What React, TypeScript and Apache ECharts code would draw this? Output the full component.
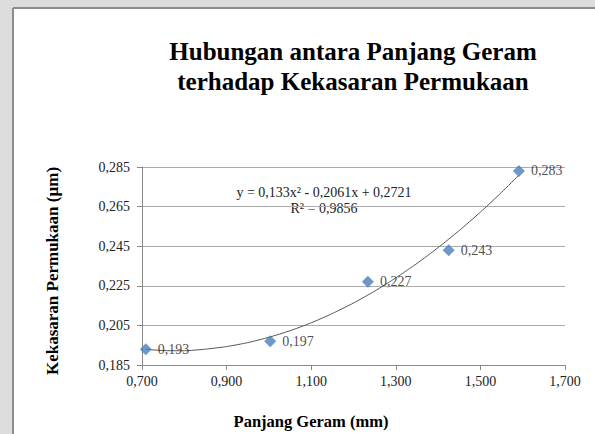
import React, { useEffect, useRef } from "react";
import * as echarts from "echarts";

const titleLines = ["Hubungan antara Panjang Geram", "terhadap Kekasaran Permukaan"];
const xName = "Panjang Geram (mm)";
const yName = "Kekasaran Permukaan (µm)";
const panjangGeram = [0.709, 1.003, 1.234, 1.425, 1.591];
const kekasaran = [0.193, 0.197, 0.227, 0.243, 0.283];
const trendX = [0.709, 0.75, 0.8, 0.85, 0.9, 0.95, 1.0, 1.05, 1.1, 1.15, 1.2, 1.25, 1.3, 1.35, 1.4, 1.45, 1.5, 1.55, 1.591];
const trendY = [0.1929, 0.1923, 0.1922, 0.1930, 0.1943, 0.1963, 0.1990, 0.2023, 0.2063, 0.2110, 0.2163, 0.2223, 0.2290, 0.2363, 0.2443, 0.2529, 0.2622, 0.2722, 0.2809];
const equationText = "y = 0,133x² - 0,2061x + 0,2721";
const r2Text = "R² = 0,9856";

const fmt = (v: number) => v.toFixed(3).replace(".", ",");
const FONT = "Liberation Serif";

export default function App() {
  const ref = useRef<HTMLDivElement>(null);
  useEffect(() => {
    const chart = echarts.init(ref.current!, null, { renderer: "svg" });
    chart.setOption({
      animation: false,
      backgroundColor: "#dcdcdc",
      textStyle: { fontFamily: FONT },
      graphic: [
        { type: "rect", shape: { x: 13, y: 8, width: 600, height: 440 }, style: { fill: "#ffffff" }, z: -10 },
        { type: "line", shape: { x1: 13, y1: 8, x2: 600, y2: 8 }, style: { stroke: "#8c8c8c", lineWidth: 2 }, z: -9 },
        { type: "line", shape: { x1: 13, y1: 8, x2: 13, y2: 440 }, style: { stroke: "#8c8c8c", lineWidth: 2 }, z: -9 },
        {
          type: "text", x: 353, y: 51,
          style: { text: titleLines[0], fontFamily: FONT, fontWeight: "bold", fontSize: 25, fill: "#000", align: "center", verticalAlign: "middle" },
        },
        {
          type: "text", x: 353, y: 81,
          style: { text: titleLines[1], fontFamily: FONT, fontWeight: "bold", fontSize: 25, fill: "#000", align: "center", verticalAlign: "middle" },
        },
        {
          type: "text", x: 324, y: 192,
          style: { text: equationText, fontFamily: FONT, fontSize: 14, fill: "#222", align: "center", verticalAlign: "middle" },
        },
        {
          type: "text", x: 324, y: 208,
          style: { text: r2Text, fontFamily: FONT, fontSize: 14, fill: "#222", align: "center", verticalAlign: "middle" },
        },
        {
          type: "text", x: 311, y: 421,
          style: { text: xName, fontFamily: FONT, fontWeight: "bold", fontSize: 16.5, fill: "#000", align: "center", verticalAlign: "middle" },
        },
        {
          type: "text", x: 52, y: 271, rotation: Math.PI / 2,
          style: { text: yName, fontFamily: FONT, fontWeight: "bold", fontSize: 17, fill: "#000", align: "center", verticalAlign: "middle" },
        },
      ],
      grid: { left: 142, right: 30, top: 167, bottom: 69, containLabel: false },
      xAxis: {
        type: "value", min: 0.7, max: 1.7, interval: 0.2,
        axisLine: { show: true, lineStyle: { color: "#888", width: 1 } },
        axisTick: { show: true, length: 5, lineStyle: { color: "#888" } },
        axisLabel: { formatter: (v: number) => fmt(v), fontFamily: FONT, fontSize: 14, color: "#222", margin: 9 },
        splitLine: { show: false },
      },
      yAxis: {
        type: "value", min: 0.185, max: 0.285, interval: 0.02,
        axisLine: { show: true, lineStyle: { color: "#888", width: 1 } },
        axisTick: { show: true, length: 5, lineStyle: { color: "#888" } },
        axisLabel: { formatter: (v: number) => fmt(v), fontFamily: FONT, fontSize: 14, color: "#222", margin: 12 },
        splitLine: { show: true, lineStyle: { color: "#ababab", width: 1 } },
      },
      series: [
        {
          type: "line",
          data: trendX.map((x, i) => [x, trendY[i]]),
          smooth: 0.2,
          showSymbol: false,
          lineStyle: { color: "#555", width: 1 },
          silent: true,
          z: 2,
        },
        {
          type: "scatter",
          data: panjangGeram.map((x, i) => [x, kekasaran[i]]),
          symbol: "diamond",
          symbolSize: [12, 12],
          itemStyle: { color: "#4a7ebb" },
          label: {
            show: true, position: "right", distance: 6,
            formatter: (p: any) => fmt(p.value[1]),
            fontFamily: FONT, fontSize: 14, color: "#222",
          },
          z: 3,
        },
      ],
    });
    return () => chart.dispose();
  }, []);
  return (
    <div style={{ position: "absolute", left: 0, top: 0 }}>
      <div ref={ref} style={{ width: 595, height: 434 }} />
    </div>
  );
}
